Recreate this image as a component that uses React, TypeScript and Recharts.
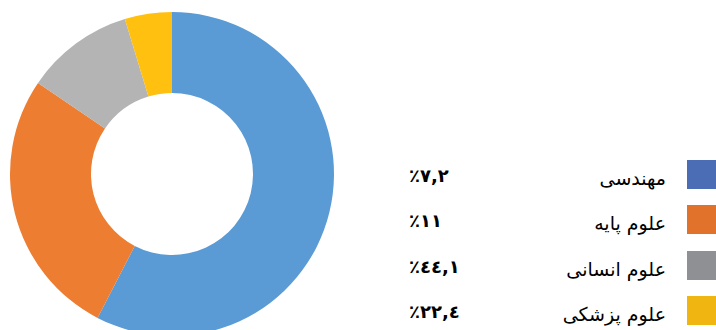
import React from "react";
import { PieChart, Pie, Cell, Legend } from "recharts";

const categories = ["مهندسی", "علوم پایه", "علوم انسانی", "علوم پزشکی"];
const sliceValues = [57.6, 26.9, 10.8, 4.7];
const legendPercents = ["٪٧,٢", "٪١١", "٪٤٤,١", "٪٢٢,٤"];
const sliceColors = ["#5B9BD5", "#ED7D31", "#B4B4B4", "#FFC010"];
const swatchColors = ["#4A6DB5", "#E0722C", "#8E9094", "#F0B510"];

const data = categories.map((name, i) => ({ name, value: sliceValues[i] }));

const LegendContent = () => (
  <div style={{ position: "relative", width: 716, height: 330 }}>
    {categories.map((name, i) => {
      const top = 160 + i * 45.3;
      return (
        <React.Fragment key={name}>
          <div
            style={{
              position: "absolute",
              left: 687,
              top,
              width: 30,
              height: 29,
              background: swatchColors[i],
            }}
          />
          <div
            dir="rtl"
            style={{
              position: "absolute",
              right: 50,
              top: top + 4,
              fontFamily: "DejaVu Sans, sans-serif",
              fontSize: 19,
              lineHeight: "29px",
              color: "#000",
              whiteSpace: "nowrap",
            }}
          >
            {name}
          </div>
          <div
            dir="ltr"
            style={{
              position: "absolute",
              left: 409,
              top: top + 1,
              fontFamily: "DejaVu Sans, sans-serif",
              fontWeight: "bold",
              fontSize: 18,
              lineHeight: "29px",
              color: "#000",
              whiteSpace: "nowrap",
            }}
          >
            {legendPercents[i]}
          </div>
        </React.Fragment>
      );
    })}
  </div>
);

export default function App() {
  return (
    <div style={{ position: "absolute", left: 0, top: 0, width: 716, height: 330, background: "#fff" }}>
      <PieChart width={716} height={330} margin={{ top: 0, right: 0, bottom: 0, left: 0 }}>
        <Pie
          data={data}
          dataKey="value"
          nameKey="name"
          cx={172}
          cy={174}
          innerRadius={81}
          outerRadius={162}
          startAngle={90}
          endAngle={-270}
          stroke="none"
          isAnimationActive={false}
        >
          {data.map((d, i) => (
            <Cell key={d.name} fill={sliceColors[i]} />
          ))}
        </Pie>
        <Legend
          content={<LegendContent />}
          wrapperStyle={{ position: "absolute", left: 0, top: 0, width: 716, height: 330 }}
        />
      </PieChart>
    </div>
  );
}
